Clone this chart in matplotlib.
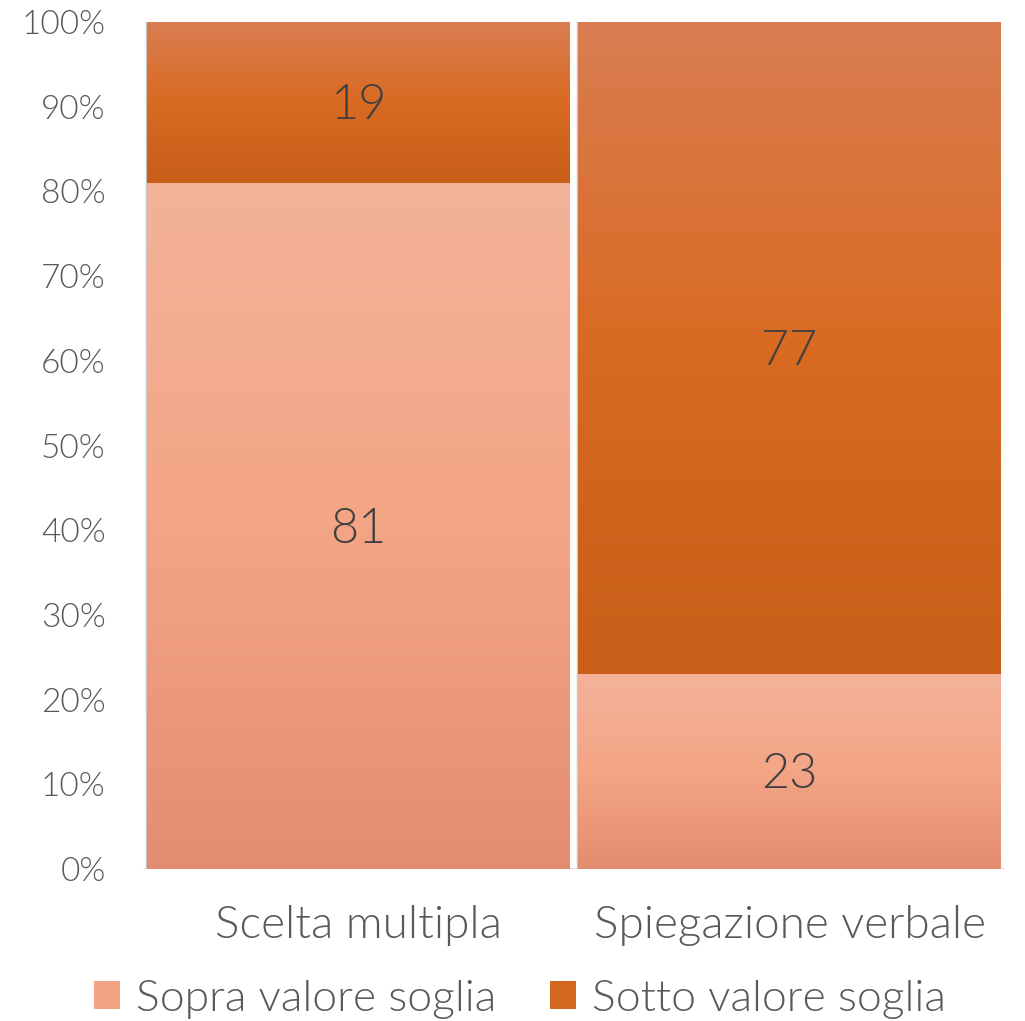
import matplotlib.pyplot as plt
import numpy as np
from matplotlib.colors import LinearSegmentedColormap
from matplotlib.patches import Patch

CATEGORIES = ["Scelta multipla", "Spiegazione verbale"]
SERIES = ["Sopra valore soglia", "Sotto valore soglia"]
SOPRA = [81, 23]
SOTTO = [19, 77]
Y_TICKS = [0, 10, 20, 30, 40, 50, 60, 70, 80, 90, 100]

# gradient stops (top -> bottom) for each series
GRADIENTS = {
    "Sopra valore soglia": ["#F3B29B", "#F4A585", "#E38D70"],
    "Sotto valore soglia": ["#DA7D52", "#D96A22", "#C85E18"],
}
LEGEND_COLORS = {"Sopra valore soglia": "#F0A283", "Sotto valore soglia": "#D4671F"}
TEXT_COLOR = "#595959"
FONT = ["Lato", "DejaVu Sans"]

plt.rcParams["font.family"] = FONT
plt.rcParams["font.weight"] = 300

fig = plt.figure(figsize=(10.25, 10.21), dpi=100)
ax = fig.add_axes([143 / 1025, 1 - 869 / 1021, 862 / 1025, 847 / 1021])

x = np.arange(len(CATEGORIES))
width = 0.98
grad = np.linspace(0, 1, 256).reshape(-1, 1)

bottoms = np.zeros(len(CATEGORIES))
for name, values in zip(SERIES, [SOPRA, SOTTO]):
    cmap = LinearSegmentedColormap.from_list(name, GRADIENTS[name][::-1])
    bars = ax.bar(x, values, width, bottom=bottoms, color="none", edgecolor="none", zorder=2)
    for bar, val, b in zip(bars, values, bottoms):
        x0 = bar.get_x()
        im = ax.imshow(grad, cmap=cmap, aspect="auto", origin="lower",
                       extent=[x0, x0 + bar.get_width(), b, b + val], zorder=2)
        im.set_clip_path(bar)
        ax.text(bar.get_x() + bar.get_width() / 2, b + val / 2 - 0.4, f"{val}",
                ha="center", va="center", fontsize=35, color="#404040", zorder=3)
    bottoms = bottoms + np.array(values)

# subtle shadow edge on bars
for xi in x:
    ax.plot([xi - width / 2, xi - width / 2], [0, 100], color="#C8C8C8", lw=2.5, zorder=1)
ax.axhline(0, color="#D9D9D9", lw=2, zorder=1)

ax.set_xlim(-0.5, len(CATEGORIES) - 0.5)
ax.set_ylim(0, 100)
ax.set_yticks(Y_TICKS)
ax.set_yticklabels([f"{t}%" for t in Y_TICKS])
ax.set_xticks(x)
ax.set_xticklabels(CATEGORIES)
ax.tick_params(axis="y", length=0, pad=27, labelsize=24, labelcolor=TEXT_COLOR)
ax.tick_params(axis="x", length=0, pad=26, labelsize=33, labelcolor=TEXT_COLOR)
for s in ax.spines.values():
    s.set_visible(False)
ax.patch.set_alpha(0)

handles = [Patch(facecolor=LEGEND_COLORS[s], edgecolor="none") for s in SERIES]
fig.legend(handles, SERIES, loc="lower center", bbox_to_anchor=(0.507, -0.037),
           ncol=2, frameon=False, fontsize=32, labelcolor=TEXT_COLOR,
           handlelength=0.6, handleheight=0.6, handletextpad=0.35, columnspacing=1.2)

fig.savefig("out.png", dpi=100)
